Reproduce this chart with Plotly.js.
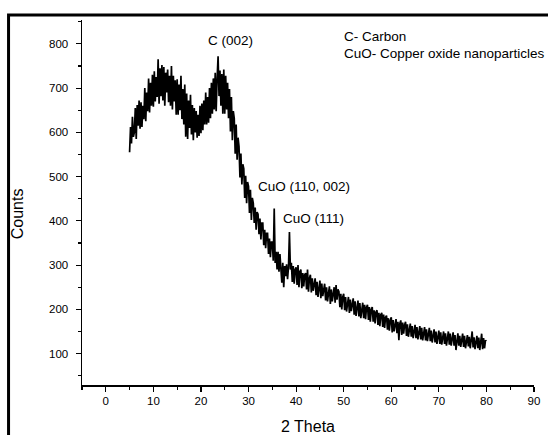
<!DOCTYPE html>
<html>
<head>
<meta charset="utf-8">
<script src="https://cdn.plot.ly/plotly-3.0.1.min.js"></script>
<style>
  html, body { margin: 0; padding: 0; background: #fff; }
  #chart { width: 548px; height: 435px; }
</style>
</head>
<body>
<div id="chart"></div>
<script>
// 2-theta grid of the scan (degrees)
const twoThetaStart = 5.0;
const twoThetaStep = 0.2;

// Counts, one row per degree (5 readings per degree)
const counts = [
  555, 612, 575, 635, 590,
  600, 655, 585, 662, 615,
  672, 608, 668, 612, 660,
  630, 700, 625, 690, 648,
  722, 645, 712, 660, 730,
  658, 738, 670, 725, 680,
  765, 665, 745, 682, 752,
  672, 748, 660, 735, 690,
  742, 668, 728, 660, 750,
  652, 728, 670, 718, 640,
  720, 640, 708, 650, 728,
  630, 698, 618, 708, 590,
  688, 585, 672, 610, 685,
  595, 662, 582, 655, 600,
  648, 588, 640, 592, 660,
  598, 665, 605, 672, 618,
  690, 618, 680, 622, 700,
  632, 712, 642, 722, 652,
  735, 648, 722, 772, 682,
  740, 660, 732, 642, 742,
  642, 728, 652, 712, 632,
  698, 602, 680, 582, 648,
  632, 552, 618, 538, 588,
  568, 498, 552, 482, 528,
  518, 452, 502, 440, 488,
  478, 418, 470, 402, 452,
  440, 395, 430, 380, 420,
  415, 370, 405, 358, 395,
  395, 345, 380, 338, 372,
  372, 325, 360, 318, 352,
  352, 310, 428, 305, 330,
  290, 330, 285, 325, 300,
  260, 305, 250, 298, 275,
  302, 268, 295, 375, 290,
  305, 262, 298, 258, 290,
  295, 255, 300, 250, 285,
  290, 248, 282, 252, 278,
  282, 245, 290, 240, 270,
  278, 238, 270, 242, 265,
  270, 232, 262, 228, 258,
  265, 225, 258, 230, 250,
  258, 220, 250, 218, 245,
  252, 212, 245, 218, 240,
  250, 215, 255, 222, 245,
  240, 205, 235, 200, 228,
  235, 198, 228, 195, 222,
  228, 192, 222, 196, 218,
  225, 188, 218, 185, 212,
  220, 184, 214, 180, 208,
  215, 180, 210, 178, 205,
  210, 176, 205, 172, 200,
  205, 172, 198, 168, 194,
  198, 165, 192, 162, 188,
  192, 160, 188, 158, 182,
  186, 154, 180, 152, 175,
  182, 148, 176, 150, 170,
  178, 146, 172, 130, 168,
  175, 142, 170, 145, 165,
  172, 140, 166, 138, 162,
  168, 138, 162, 135, 158,
  165, 135, 160, 132, 156,
  162, 132, 158, 130, 152,
  160, 130, 155, 128, 150,
  158, 128, 152, 125, 148,
  155, 125, 150, 122, 145,
  152, 122, 148, 120, 143,
  150, 122, 146, 118, 142,
  150, 120, 145, 118, 140,
  148, 118, 142, 108, 138,
  146, 118, 140, 115, 136,
  145, 115, 140, 112, 134,
  142, 116, 138, 112, 133,
  150, 114, 137, 110, 132,
  140, 112, 136, 108, 130,
  145, 110, 135, 112, 130,
  128
];

const twoTheta = counts.map((_, i) => +(twoThetaStart + i * twoThetaStep).toFixed(2));

// Peak labels
const peakLabels = ["C (002)", "CuO (110, 002)", "CuO (111)"];
const peakLabelX = [26.2, 41.7, 43.7];
const peakLabelY = [807, 477, 405];

// Legend notes
const noteLines = ["C- Carbon", "CuO- Copper oxide nanoparticles"];
const noteY = [816, 779];

const FONT = "Liberation Sans, Arial, Helvetica, sans-serif";

const trace = {
  x: twoTheta,
  y: counts,
  type: "scatter",
  mode: "lines",
  line: { color: "#000", width: 1.7 },
  hoverinfo: "x+y",
  showlegend: false
};

const annotations = [];
peakLabels.forEach((t, i) => {
  annotations.push({
    x: peakLabelX[i], y: peakLabelY[i], xref: "x", yref: "y",
    text: t, showarrow: false, xanchor: "center", yanchor: "middle",
    font: { family: FONT, size: 13.5, color: "#000" }
  });
});
noteLines.forEach((t, i) => {
  annotations.push({
    x: 49.6, y: noteY[i], xref: "x", yref: "y",
    text: t, showarrow: false, xanchor: "left", yanchor: "middle",
    font: { family: FONT, size: 13.5, color: "#000" }
  });
});
annotations.push({
  x: -0.142, y: 0.47, xref: "paper", yref: "paper",
  text: "Counts", textangle: -90, showarrow: false,
  xanchor: "center", yanchor: "middle",
  font: { family: FONT, size: 16, color: "#000" }
});

const layout = {
  width: 548,
  height: 435,
  margin: { l: 82, r: 14, t: 20, b: 50 },
  paper_bgcolor: "#fff",
  plot_bgcolor: "#fff",
  font: { family: FONT, color: "#000" },
  xaxis: {
    range: [-5, 90],
    tick0: 0, dtick: 10,
    ticks: "outside", ticklen: 5, tickwidth: 1.2, tickcolor: "#000",
    minor: { dtick: 5, ticks: "outside", ticklen: 3, tickwidth: 1.2, tickcolor: "#000" },
    showline: true, linecolor: "#000", linewidth: 1.5,
    showgrid: false, zeroline: false,
    tickfont: { family: FONT, size: 11.5, color: "#000" },
    title: { text: "2 Theta", font: { family: FONT, size: 16, color: "#000" }, standoff: 14 },
    automargin: false
  },
  yaxis: {
    range: [29, 854],
    tick0: 0, dtick: 100,
    ticks: "outside", ticklen: 5, tickwidth: 1.2, tickcolor: "#000",
    minor: { dtick: 50, ticks: "outside", ticklen: 3, tickwidth: 1.2, tickcolor: "#000" },
    showline: true, linecolor: "#000", linewidth: 1.5,
    showgrid: false, zeroline: false,
    tickfont: { family: FONT, size: 11.5, color: "#000" },
    ticklabelstandoff: 5,
    automargin: false
  },
  annotations: annotations,
  shapes: [{
    type: "path", xref: "paper", yref: "paper",
    path: "M 1.1,1.0137 L -0.1625,1.0137 L -0.1625,-0.2",
    line: { color: "#000", width: 3 }
  }]
};

Plotly.newPlot("chart", [trace], layout, { displayModeBar: false, staticPlot: true });
</script>
</body>
</html>
